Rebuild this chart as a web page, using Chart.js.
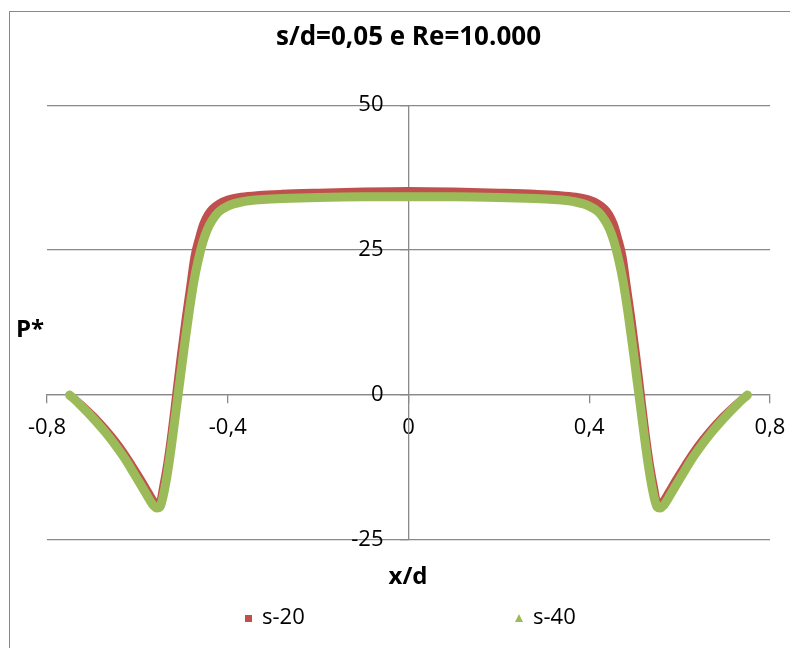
<!DOCTYPE html>
<html>
<head>
<meta charset="utf-8">
<script src="https://cdn.jsdelivr.net/npm/chart.js@4/dist/chart.umd.min.js"></script>
<style>
  body { margin: 0; background: #fff; }
  #wrap { width: 790px; height: 648px; }
</style>
</head>
<body>
<div id="wrap"><canvas id="pChart" width="790" height="648"></canvas></div>
<script>
// x/d positions shared by both series
const xPos = [
  -0.75, -0.73, -0.71, -0.69, -0.67, -0.65, -0.63, -0.61, -0.59, -0.575, -0.565,
  -0.557, -0.55, -0.545, -0.535, -0.525, -0.515, -0.505, -0.495, -0.485, -0.475,
  -0.465, -0.455, -0.445, -0.435, -0.42, -0.40, -0.37, -0.33, -0.28, -0.20, -0.10,
  0,
  0.10, 0.20, 0.28, 0.33, 0.37, 0.40, 0.42, 0.435, 0.445, 0.455, 0.465, 0.475,
  0.485, 0.495, 0.505, 0.515, 0.525, 0.535, 0.545, 0.55, 0.557, 0.565, 0.575,
  0.59, 0.61, 0.63, 0.65, 0.67, 0.69, 0.71, 0.73, 0.75
];

// P* for s-20
const pS20 = [
  0, -1.2, -2.6, -4.1, -5.8, -7.7, -9.8, -12.2, -14.7, -16.7, -18.0,
  -18.7, -18.2, -16.2, -11.8, -6.2, 0.3, 6.8, 12.8, 18.3, 23.8,
  27.0, 29.6, 31.2, 32.2, 33.1, 33.8, 34.3, 34.6, 34.8, 35.0, 35.2,
  35.3,
  35.2, 35.0, 34.8, 34.6, 34.3, 33.8, 33.1, 32.2, 31.2, 29.6, 27.0, 23.8,
  18.3, 12.8, 6.8, 0.3, -6.2, -11.8, -16.2, -18.2, -18.7, -18.0, -16.7,
  -14.7, -12.2, -9.8, -7.7, -5.8, -4.1, -2.6, -1.2, 0
];

// P* for s-40
const pS40 = [
  0, -1.4, -3.0, -4.7, -6.5, -8.5, -10.7, -13.2, -15.8, -17.8, -19.0,
  -19.5, -19.3, -18.1, -14.2, -9.0, -3.0, 3.0, 9.0, 14.6, 19.6,
  23.4, 26.4, 28.6, 30.1, 31.6, 32.6, 33.3, 33.7, 33.9, 34.1, 34.2,
  34.2,
  34.2, 34.1, 33.9, 33.7, 33.3, 32.6, 31.6, 30.1, 28.6, 26.4, 23.4, 19.6,
  14.6, 9.0, 3.0, -3.0, -9.0, -14.2, -18.1, -19.3, -19.5, -19.0, -17.8,
  -15.8, -13.2, -10.7, -8.5, -6.5, -4.7, -3.0, -1.4, 0
];

const seriesNames = ['s-20', 's-40'];
const xTicks = [-0.8, -0.4, 0, 0.4, 0.8];
const yTicks = [-25, 0, 25, 50];

const RED = '#C0504D';
const GREEN = '#9BBB59';
const GRAY = '#898989';
const FONT = '"Open Sans", "DejaVu Sans", sans-serif';

function toPoints(xs, ys) {
  return xs.map((x, i) => ({ x: x, y: ys[i] }));
}

function fmtComma(v) {
  if (Math.abs(v) < 1e-9) return '0';
  return v.toFixed(1).replace('.', ',');
}

// frame, axis titles and legend (Excel style)
const extrasPlugin = {
  id: 'extras',
  beforeDraw(chart) {
    const c = chart.ctx;
    c.save();
    c.fillStyle = '#fff';
    c.fillRect(0, 0, chart.width, chart.height);
    c.strokeStyle = GRAY;
    c.lineWidth = 1;
    c.strokeRect(9.5, 11.5, 800, 700);
    c.restore();
  },
  afterDraw(chart) {
    const c = chart.ctx;
    c.save();
    c.fillStyle = '#000';
    c.textBaseline = 'middle';
    c.textAlign = 'center';
    c.font = 'bold 24px ' + FONT;
    c.fillText('P*', 30, 330);
    c.fillText('x/d', 408, 577);

    // legend
    c.font = '22px ' + FONT;
    c.textAlign = 'left';
    c.fillStyle = RED;
    c.fillRect(245, 615, 7, 7);
    c.fillStyle = GREEN;
    c.beginPath();
    c.moveTo(519, 614);
    c.lineTo(523, 622);
    c.lineTo(515, 622);
    c.closePath();
    c.fill();
    c.fillStyle = '#000';
    c.fillText(seriesNames[0], 262, 618);
    c.fillText(seriesNames[1], 533, 618);
    c.restore();
  }
};

const ctx = document.getElementById('pChart').getContext('2d');

const config = {
  type: 'scatter',
  data: {
    datasets: [
      {
        label: seriesNames[0],
        data: toPoints(xPos, pS20),
        showLine: true,
        borderColor: RED,
        backgroundColor: RED,
        borderWidth: 7,
        borderJoinStyle: 'round',
        borderCapStyle: 'round',
        pointRadius: 0,
        cubicInterpolationMode: 'monotone',
        order: 2
      },
      {
        label: seriesNames[1],
        data: toPoints(xPos, pS40),
        showLine: true,
        borderColor: GREEN,
        backgroundColor: GREEN,
        borderWidth: 9,
        borderJoinStyle: 'round',
        borderCapStyle: 'round',
        pointRadius: 0,
        cubicInterpolationMode: 'monotone',
        order: 1
      }
    ]
  },
  options: {
    responsive: false,
    animation: false,
    layout: {
      padding: { left: 47, right: 20, top: 0, bottom: 108 }
    },
    plugins: {
      legend: { display: false },
      tooltip: { enabled: false },
      title: {
        display: true,
        text: 's/d=0,05 e Re=10.000',
        color: '#000',
        font: { family: FONT, size: 26, weight: 'bold' },
        padding: { top: 22, bottom: 52 }
      }
    },
    scales: {
      x: {
        type: 'linear',
        min: -0.8,
        max: 0.8,
        position: { y: 0 },
        afterBuildTicks: axis => { axis.ticks = xTicks.map(v => ({ value: v })); },
        ticks: {
          color: '#000',
          font: { family: FONT, size: 22, lineHeight: 2.2 },
          padding: 0,
          maxRotation: 0,
          autoSkip: false,
          callback: v => fmtComma(v)
        },
        grid: { drawOnChartArea: false, drawTicks: true, tickLength: 8, color: GRAY, lineWidth: 1.3 },
        border: { color: GRAY, width: 1.3 }
      },
      y: {
        type: 'linear',
        min: -25,
        max: 50,
        position: 'center',
        afterBuildTicks: axis => { axis.ticks = yTicks.map(v => ({ value: v })); },
        ticks: {
          color: '#000',
          font: { family: FONT, size: 22 },
          padding: 17,
          autoSkip: false,
          callback: v => String(v)
        },
        grid: { drawTicks: true, tickLength: 8, color: GRAY, lineWidth: 1.3 },
        border: { color: GRAY, width: 1.3 }
      }
    }
  },
  plugins: [extrasPlugin]
};

const pChart = new Chart(ctx, config);
</script>
</body>
</html>
